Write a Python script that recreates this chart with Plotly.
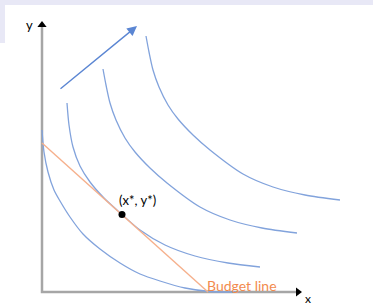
import plotly.graph_objects as go

# Indifference curves (data units)
curve1_x = [0.0, 0.2, 0.6, 1.2, 1.8, 2.8, 4.1, 5.8, 7.8, 9.8, 11.8, 14.3, 16.8, 19.3]
curve1_y = [16.2, 14.0, 12.0, 10.2, 9.1, 7.5, 5.8, 4.3, 2.9, 1.8, 1.1, 0.4, 0.05, 0.0]

curve2_x = [2.5, 2.7, 3.1, 3.8, 4.8, 6.2, 8.0, 9.8, 12.3, 15.3, 18.6, 21.8]
curve2_y = [18.9, 16.7, 14.5, 12.6, 11.0, 9.4, 7.75, 6.2, 4.7, 3.6, 2.9, 2.5]

curve3_x = [6.1, 6.4, 6.8, 7.4, 8.3, 9.3, 10.8, 12.5, 15.8, 18.8, 22.0, 25.5]
curve3_y = [22.3, 20.7, 18.9, 17.2, 15.4, 14.0, 12.4, 10.9, 8.5, 7.2, 6.4, 5.9]

curve4_x = [10.4, 10.7, 11.1, 11.7, 12.6, 13.6, 15.1, 16.8, 20.1, 23.1, 26.3, 29.8]
curve4_y = [25.6, 24.0, 22.2, 20.5, 18.7, 17.3, 15.7, 14.2, 11.8, 10.5, 9.7, 9.2]

budget_x = [0.0, 16.6]
budget_y = [14.9, 0.0]

optimum_x = [8.0]
optimum_y = [7.75]

arrow_start = (1.7, 20.2)
arrow_end = (9.5, 26.6)

x_axis_end = 26.0
y_axis_end = 27.1

BLUE = "#82a3dc"
ORANGE = "#f6b08c"
GRAY = "#a6a6a6"

fig = go.Figure()

# axes
fig.add_trace(go.Scatter(x=[0, 0, x_axis_end - 0.4], y=[y_axis_end - 0.4, 0, 0], mode="lines",
                         line=dict(color=GRAY, width=2.5), hoverinfo="skip"))
fig.add_trace(go.Scatter(x=[0], y=[y_axis_end - 0.4], mode="markers",
                         marker=dict(symbol="triangle-up", size=8, color="black"), hoverinfo="skip"))
fig.add_trace(go.Scatter(x=[x_axis_end - 0.4], y=[0], mode="markers",
                         marker=dict(symbol="triangle-right", size=8, color="black"), hoverinfo="skip"))

for cx, cy in [(curve1_x, curve1_y), (curve2_x, curve2_y), (curve3_x, curve3_y), (curve4_x, curve4_y)]:
    fig.add_trace(go.Scatter(x=cx, y=cy, mode="lines",
                             line=dict(color=BLUE, width=1.3, shape="spline", smoothing=0.8),
                             hoverinfo="skip"))

fig.add_trace(go.Scatter(x=budget_x, y=budget_y, mode="lines",
                         line=dict(color=ORANGE, width=1.4), hoverinfo="skip"))
fig.add_trace(go.Scatter(x=optimum_x, y=optimum_y, mode="markers",
                         marker=dict(color="black", size=7), hoverinfo="skip"))

fig.add_annotation(x=arrow_end[0], y=arrow_end[1], ax=arrow_start[0], ay=arrow_start[1],
                   xref="x", yref="y", axref="x", ayref="y", text="", showarrow=True,
                   arrowhead=2, arrowsize=1.4, arrowwidth=1.4, arrowcolor="#5b86d3")

fig.add_annotation(x=9.5, y=9.2, text="(x*, y*)", showarrow=False,
                   font=dict(family="Lato", size=13, color="black"))
fig.add_annotation(x=16.3, y=0.7, text="Budget line", showarrow=False, xanchor="left",
                   font=dict(family="Lato", size=14, color="#f28b4e"))
fig.add_annotation(x=-1.3, y=26.7, text="y", showarrow=False,
                   font=dict(family="Lato", size=13, color="black"))
fig.add_annotation(x=26.6, y=-0.6, text="x", showarrow=False,
                   font=dict(family="Lato", size=12, color="black"))

# background bands
fig.add_shape(type="rect", xref="paper", yref="paper", x0=0, x1=1, y0=1 - 5 / 305, y1=1,
              fillcolor="#e8e8f6", line=dict(width=0), layer="below")
fig.add_shape(type="rect", xref="paper", yref="paper", x0=0, x1=5 / 373, y0=1 - 43 / 305, y1=1,
              fillcolor="#e8e8f6", line=dict(width=0), layer="below")

fig.update_layout(
    width=373, height=305, margin=dict(l=0, r=0, t=0, b=0),
    paper_bgcolor="white", plot_bgcolor="white", showlegend=False,
    xaxis=dict(range=[-4.2, 33.1], visible=False, fixedrange=True),
    yaxis=dict(range=[-1.3, 29.2], visible=False, fixedrange=True),
)

fig.write_html("out.html", config={"displayModeBar": False, "staticPlot": True},
               post_script="document.body.style.margin='0';document.body.style.overflow='hidden';")
